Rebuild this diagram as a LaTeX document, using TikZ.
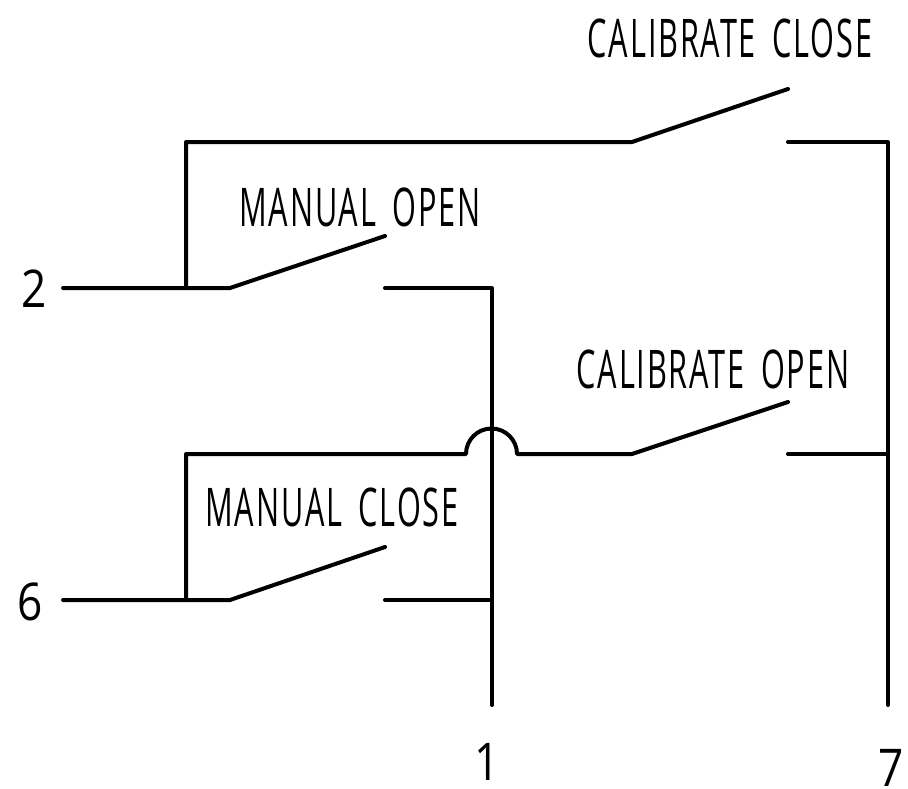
\documentclass[tikz,border=0pt]{standalone}
\usepackage{fontspec}
\newfontfamily\cadfont[LetterSpace=6]{Open Sans}
\setmainfont{Open Sans}
\newcommand{\wgap}{\hspace{0.22em}}
\begin{document}
\begin{tikzpicture}[x=0.75pt,y=-0.75pt,
  wire/.style={line width=3pt,black,line cap=round,line join=round},
  lbl/.style={inner sep=0pt,font=\fontsize{40}{40}\cadfont,xscale=0.575},
  num/.style={inner sep=0pt,font=\fontsize{39}{39}\selectfont,xscale=0.85}]
\useasboundingbox (0,0) rectangle (908,789);
\fill[white] (0,0) rectangle (908,789);
\coordinate (tTwo) at (63,288);
\coordinate (j2) at (186,288);
\coordinate (s1a) at (230,288);
\coordinate (s1b) at (385,236);
\coordinate (s1c) at (385,288);
\coordinate (c1) at (492,288);
\coordinate (tl) at (186,142);
\coordinate (s2a) at (632,142);
\coordinate (s2b) at (788,89);
\coordinate (s2c) at (788,142);
\coordinate (tr) at (888,142);
\coordinate (end7) at (888,705);
\coordinate (end1) at (492,705);
\coordinate (ml) at (186,454);
\coordinate (arcA) at (466,454);
\coordinate (arcB) at (517,454);
\coordinate (s3a) at (632,454);
\coordinate (s3b) at (788,402);
\coordinate (s3c) at (788,454);
\coordinate (j7) at (888,454);
\coordinate (tSix) at (63,600);
\coordinate (j6) at (186,600);
\coordinate (s4a) at (230,600);
\coordinate (s4b) at (385,547);
\coordinate (s4c) at (385,600);
\coordinate (j1) at (492,600);
\draw[wire] (tTwo) -- (s1a) -- (s1b);
\draw[wire] (j2) -- (tl) -- (s2a) -- (s2b);
\draw[wire] (s2c) -- (tr) -- (end7);
\draw[wire] (s1c) -- (c1) -- (end1);
\draw[wire] (j6) -- (ml) -- (arcA) arc[start angle=180,end angle=360,radius=25.5] -- (s3a) -- (s3b);
\draw[wire] (s3c) -- (j7);
\draw[wire] (tSix) -- (s4a) -- (s4b);
\draw[wire] (s4c) -- (j1);
\node[lbl] (calclose) at (730,38) {CALIBRATE \wgap CLOSE};
\node[lbl] (manopen) at (360,207) {MANUAL \wgap OPEN};
\node[lbl] (calopen) at (713,369) {CALIBRATE \wgap OPEN};
\node[lbl] (manclose) at (332,507) {MANUAL \wgap CLOSE};
\node[num] (n2) at (34,289) {2};
\node[num] (n6) at (30,602) {6};
\node[num] (n1) at (487,762) {1};
\node[num] (n7) at (891,768) {7};
\end{tikzpicture}
\end{document}
